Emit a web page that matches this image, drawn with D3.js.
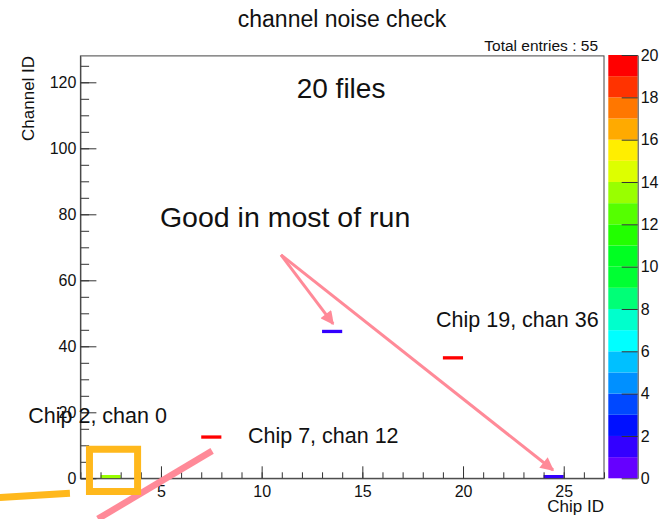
<!DOCTYPE html>
<html>
<head>
<meta charset="utf-8">
<script src="https://cdn.jsdelivr.net/npm/d3@7"></script>
<style>
  body { margin: 0; background: #fff; }
  text { font-family: "Liberation Sans", Arial, sans-serif; fill: #111; }
</style>
</head>
<body>
<div id="chart"></div>
<script>
// noisy channels (chip, channel, number of files flagged)
var chips    = [2, 7, 13, 19, 24];
var channels = [0, 12, 44, 36, 0];
var counts   = [13, 20, 1, 20, 1];

var xTicks = [5, 10, 15, 20, 25];
var yTicks = [0, 20, 40, 60, 80, 100, 120];
var zTicks = [0, 2, 4, 6, 8, 10, 12, 14, 16, 18, 20];

// 20 contour colours, low to high
var palette = ["#6600ff", "#3300ff", "#0010ff", "#0048ff", "#0090ff", "#00c0ff", "#00ffff",
  "#00ffcc", "#00ff77", "#00ff33", "#00ff22", "#22ff00", "#55ff00", "#99ff00", "#ddff00",
  "#ffee00", "#ffaa00", "#ff7700", "#ff3300", "#ff0000"];

var W = 666, H = 519;
var svg = d3.select("#chart").append("svg")
    .attr("width", W)
    .attr("height", H);

var x = d3.scaleLinear().domain([1, 27]).range([80.4, 604]);
var y = d3.scaleLinear().domain([0, 128]).range([478.3, 55.9]);
var z = d3.scaleLinear().domain([0, 20]).range([478.3, 55]);
var color = d3.scaleQuantize().domain([0, 20]).range(palette);

// title + stats
svg.append("text").attr("x", 342).attr("y", 27)
    .attr("text-anchor", "middle").style("font-size", "23px")
    .text("channel noise check");
svg.append("text").attr("x", 598).attr("y", 51)
    .attr("text-anchor", "end").style("font-size", "15.5px")
    .text("Total entries : " + d3.sum(counts));

// frame
svg.append("rect")
    .attr("x", x(1)).attr("y", y(128))
    .attr("width", x(27) - x(1)).attr("height", y(0) - y(128))
    .attr("fill", "none").attr("stroke", "#444").attr("stroke-width", 1);

// cells
var cells = d3.range(chips.length);
svg.append("g").selectAll("rect")
    .data(cells)
    .enter()
    .append("rect")
    .attr("x", function(i) { return x(chips[i]); })
    .attr("y", function(i) { return y(channels[i] + 1); })
    .attr("width", function(i) { return x(chips[i] + 1) - x(chips[i]); })
    .attr("height", function(i) { return y(channels[i]) - y(channels[i] + 1); })
    .attr("fill", function(i) { return color(counts[i]); });

// axes
var xMinor = svg.append("g")
    .attr("transform", "translate(0," + y(0) + ")")
    .call(d3.axisBottom(x).tickValues(d3.range(1, 28)).tickSize(-6).tickFormat(""));
xMinor.select(".domain").remove();
var xAxis = svg.append("g")
    .attr("transform", "translate(0," + y(0) + ")")
    .call(d3.axisBottom(x).tickValues(xTicks).tickSize(-12).tickSizeOuter(0).tickPadding(7));

var yMinor = svg.append("g")
    .attr("transform", "translate(" + x(1) + ",0)")
    .call(d3.axisLeft(y).tickValues(d3.range(0, 129, 5)).tickSize(-8.7).tickFormat(""));
yMinor.select(".domain").remove();
var yAxis = svg.append("g")
    .attr("transform", "translate(" + x(1) + ",0)")
    .call(d3.axisLeft(y).tickValues(yTicks).tickSize(-16).tickSizeOuter(0).tickPadding(4));

svg.selectAll(".tick line").attr("stroke", "#333");
svg.selectAll(".domain").attr("stroke", "#444");
xAxis.selectAll("text").style("font-size", "16px").attr("fill", "#111");
yAxis.selectAll("text").style("font-size", "16px").attr("fill", "#111");

svg.append("text").attr("x", x(27)).attr("y", 512)
    .attr("text-anchor", "end").style("font-size", "17px")
    .text("Chip ID");
svg.append("text")
    .attr("transform", "translate(34," + y(128) + ") rotate(-90)")
    .attr("text-anchor", "end").style("font-size", "17px")
    .text("Channel ID");

// colour bar
var bar = svg.append("g");
bar.selectAll("rect")
    .data(palette)
    .enter()
    .append("rect")
    .attr("x", 608.3)
    .attr("y", function(d, i) { return z(i + 1); })
    .attr("width", 29.4)
    .attr("height", function(d, i) { return z(i) - z(i + 1); })
    .attr("fill", function(d) { return d; });
var zAxis = svg.append("g")
    .attr("transform", "translate(637.7,0)")
    .call(d3.axisRight(z).tickValues(zTicks).tickSize(-16).tickSizeOuter(0).tickPadding(3));
zAxis.select(".domain").attr("stroke", "#444");
zAxis.selectAll(".tick line").attr("stroke", "#333");
zAxis.selectAll("text").style("font-size", "16px").attr("fill", "#111");

// hand-drawn annotations (placed in data units)
var note = svg.append("g");
function label(cx, cy, size, s) {
  note.append("text").attr("x", x(cx)).attr("y", y(cy))
      .style("font-size", size + "px").text(s);
}
label(11.74, 115.2, 28, "20 files");
label(4.95, 76.2, 28.5, "Good in most of run");
label(18.66, 45.9, 21.5, "Chip 19, chan 36");
label(9.32, 10.7, 21.5, "Chip 7, chan 12");
label(-1.59, 16.7, 21.5, "Chip 2, chan 0");

var pink = "#ff8a98", orange = "#ffb81c";
svg.append("defs").append("marker")
    .attr("id", "head")
    .attr("viewBox", "0 0 10 10")
    .attr("refX", 9).attr("refY", 5)
    .attr("markerWidth", 5.5).attr("markerHeight", 4.5)
    .attr("markerUnits", "strokeWidth")
    .attr("orient", "auto")
    .append("path").attr("d", "M0,0L10,5L0,10Z").attr("fill", pink);

[[13.55, 46.8], [24.47, 2.5]].forEach(function(t) {
  note.append("line")
      .attr("x1", x(10.96)).attr("y1", y(67.7))
      .attr("x2", x(t[0])).attr("y2", y(t[1]))
      .attr("stroke", pink).attr("stroke-width", 3)
      .attr("marker-end", "url(#head)");
});
note.append("line")
    .attr("x1", x(1.87)).attr("y1", y(-12.3))
    .attr("x2", x(7.54)).attr("y2", y(8.3))
    .attr("stroke", pink).attr("stroke-width", 6.5);
note.append("line")
    .attr("x1", x(-3.0)).attr("y1", y(-5.8))
    .attr("x2", x(0.48)).attr("y2", y(-4.5))
    .attr("stroke", orange).attr("stroke-width", 7);
note.append("rect")
    .attr("x", x(1.45)).attr("y", y(8.8))
    .attr("width", x(3.84) - x(1.45)).attr("height", y(-4) - y(8.8))
    .attr("fill", "none").attr("stroke", orange).attr("stroke-width", 7);
</script>
</body>
</html>
